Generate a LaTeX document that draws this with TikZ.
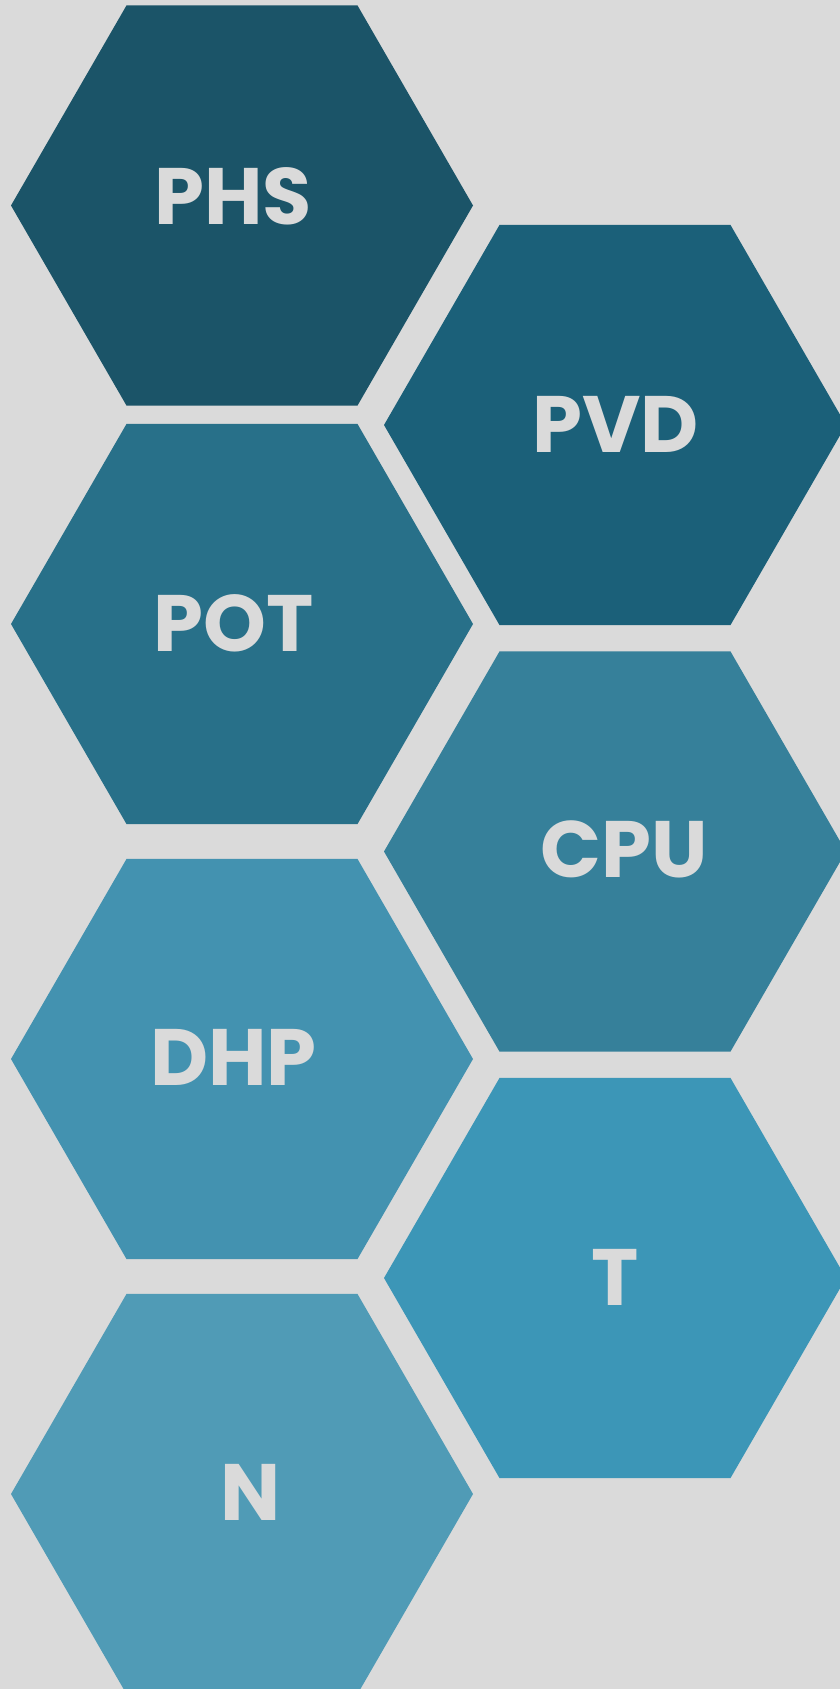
\documentclass[tikz,border=0pt]{standalone}
\usepackage{fontspec}
\setmainfont{Poppins}
\usetikzlibrary{shapes.geometric}

\definecolor{bgcol}{HTML}{DADADA}
\definecolor{hexone}{HTML}{1B5468}
\definecolor{hextwo}{HTML}{1B6079}
\definecolor{hexthree}{HTML}{287089}
\definecolor{hexfour}{HTML}{36809A}
\definecolor{hexfive}{HTML}{4392B0}
\definecolor{hexsix}{HTML}{3C96B7}
\definecolor{hexseven}{HTML}{509BB6}

\begin{document}
\begin{tikzpicture}
[x=1pt,y=-1pt,%
  hexa/.style={shape=regular polygon,regular polygon sides=6,minimum size=462pt,
    inner sep=0pt,outer sep=0pt,draw=none},%
  every label/.style={text=bgcol,font=\fontsize{80}{80}\selectfont\bfseries,inner sep=0pt}]
\fill[bgcol] (0,0) rectangle (840,1689);
\useasboundingbox (0,0) rectangle (840,1689);
\node[hexa,fill=hexone,label={[xshift=-9pt,yshift=9.5pt]center:PHS}] (phs) at (242,205.5) {};
\node[hexa,fill=hextwo,label={[xshift=0.5pt,yshift=1pt]center:PVD}] (pvd) at (615,425) {};
\node[hexa,fill=hexthree,label={[xshift=-8.5pt,yshift=0.7pt]center:POT}] (pot) at (242,624) {};
\node[hexa,fill=hexfour,label={[xshift=9pt,yshift=1.7pt]center:CPU}] (cpu) at (615,851.5) {};
\node[hexa,fill=hexfive,label={[xshift=-8.5pt,yshift=1.5pt]center:DHP}] (dhp) at (242,1059) {};
\node[hexa,fill=hexsix,label={[yshift=1pt]center:T}] (t) at (615,1278) {};
\node[hexa,fill=hexseven,label={[xshift=9pt,yshift=1.5pt]center:N}] (n) at (242,1494) {};
\end{tikzpicture}
\end{document}
